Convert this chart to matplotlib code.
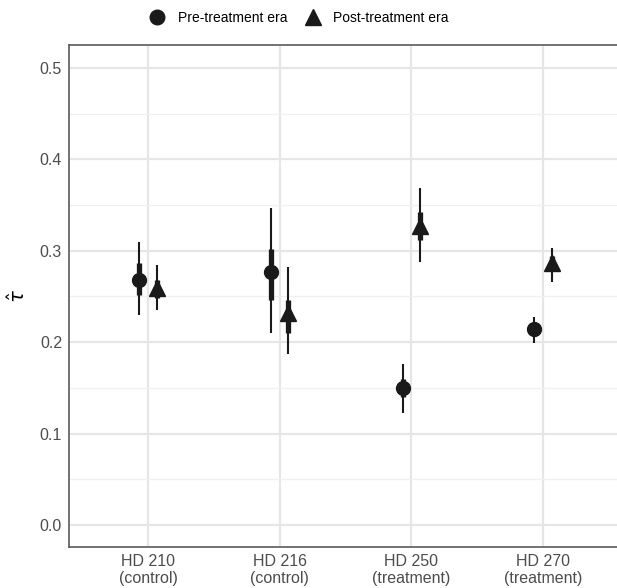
import numpy as np
import matplotlib.pyplot as plt
from matplotlib.lines import Line2D

plt.rcParams['font.family'] = ['Liberation Sans', 'DejaVu Sans']

# dane
stars = ["HD 210\n(control)", "HD 216\n(control)", "HD 250\n(treatment)", "HD 270\n(treatment)"]

pre_est = [0.268, 0.277, 0.150, 0.214]
pre_lo95 = [0.230, 0.210, 0.122, 0.199]
pre_hi95 = [0.310, 0.347, 0.176, 0.227]
pre_lo66 = [0.252, 0.246, 0.140, 0.207]
pre_hi66 = [0.287, 0.302, 0.160, 0.220]

post_est = [0.259, 0.232, 0.327, 0.287]
post_lo95 = [0.235, 0.187, 0.288, 0.266]
post_hi95 = [0.284, 0.282, 0.369, 0.303]
post_lo66 = [0.248, 0.210, 0.312, 0.278]
post_hi66 = [0.268, 0.246, 0.342, 0.294]

x = np.arange(1, len(stars) + 1)
dodge = 0.065
col = "#1a1a1a"

fig = plt.figure(figsize=(6.17, 5.88), dpi=100)
ax = fig.add_axes([69 / 617, 1 - 547 / 588, (622 - 69) / 617, (547 - 45) / 588])

# przedzialy
ax.vlines(x - dodge, pre_lo95, pre_hi95, color=col, lw=1.5, zorder=3)
ax.vlines(x - dodge, pre_lo66, pre_hi66, color=col, lw=3.8, zorder=3)
ax.vlines(x + dodge, post_lo95, post_hi95, color=col, lw=1.5, zorder=3)
ax.vlines(x + dodge, post_lo66, post_hi66, color=col, lw=3.8, zorder=3)

ax.plot(x - dodge, pre_est, "o", color=col, ms=10, ls="none", zorder=4)
ax.plot(x + dodge, post_est, "^", color=col, ms=11.5, ls="none", zorder=4)

ax.set_xlim(0.4, 4.6)
ax.set_ylim(-0.024, 0.525)
ax.set_xticks(x)
ax.set_xticklabels(stars)
ax.set_yticks(np.arange(0, 0.51, 0.1))
ax.set_yticks(np.arange(0.05, 0.5, 0.1), minor=True)
ax.set_yticklabels(["0.0", "0.1", "0.2", "0.3", "0.4", "0.5"])

ax.grid(True, which="major", color="#e6e6e6", lw=1.6, zorder=0)
ax.grid(True, which="minor", axis="y", color="#f0f0f0", lw=1.0, zorder=0)
ax.set_axisbelow(True)
ax.tick_params(which="both", length=0, labelsize=11.5, labelcolor="#4d4d4d", pad=5)

for s in ax.spines.values():
    s.set_color("#5a5a5a")
    s.set_linewidth(1.2)

ax.set_ylabel(r"$\hat{\tau}$", fontsize=14, labelpad=8)

handles = [
    Line2D([], [], marker="o", color=col, ls="none", ms=10.5),
    Line2D([], [], marker="^", color=col, ls="none", ms=12),
]
fig.legend(handles, ["Pre-treatment era", "Post-treatment era"], loc="center",
           bbox_to_anchor=(0.48, 1 - 18 / 588), ncol=2, frameon=False,
           fontsize=10, handletextpad=0.5, columnspacing=0.8)

fig.savefig("out.png", dpi=100)
